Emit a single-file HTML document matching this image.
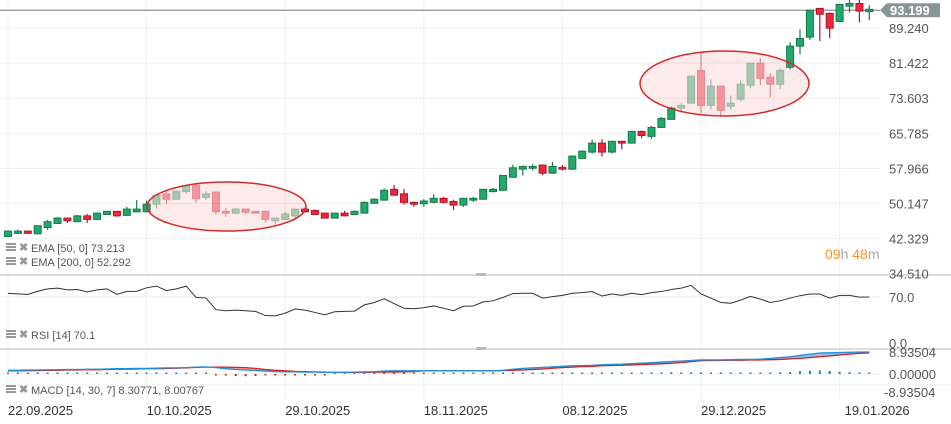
<!DOCTYPE html>
<html><head><meta charset="utf-8"><style>
body{margin:0;background:#fff;width:951px;height:424px;overflow:hidden;font-family:"Liberation Sans",sans-serif}
svg{display:block}
</style></head><body>
<svg id="c" width="951" height="424" viewBox="0 0 951 424" xmlns="http://www.w3.org/2000/svg"></svg>
<script>
const opens=[42.8,43.5,44.0,43.4,44.8,45.7,46.9,46.1,47.4,46.6,47.7,48.4,47.5,48.3,48.3,50.0,52.3,51.1,52.8,54.2,51.5,52.7,48.4,48.0,48.9,48.4,48.4,46.3,46.6,47.4,48.9,48.6,48.0,46.9,48.0,47.7,48.0,50.2,50.9,53.3,52.3,50.4,50.1,50.4,51.3,50.6,49.8,50.9,51.1,52.8,53.1,56.0,57.8,58.0,58.7,56.9,58.2,57.8,60.2,61.6,63.6,61.6,64.0,63.6,66.2,65.1,67.1,68.9,71.4,72.5,79.8,72.0,76.3,71.8,73.4,76.5,81.4,78.3,76.7,80.5,85.2,87.2,93.6,92.5,90.7,94.1,94.7,92.9];
const closes=[44.0,44.0,43.5,45.2,46.1,46.9,46.3,47.4,46.6,48.0,48.4,47.4,48.9,48.9,50.0,52.0,51.1,52.9,54.1,51.2,52.3,48.3,48.0,48.9,48.2,48.0,46.6,46.9,47.8,48.9,48.3,47.7,46.9,48.0,47.4,48.4,50.4,51.1,53.1,52.0,50.4,50.0,50.7,51.3,50.4,49.8,51.3,51.3,53.3,53.3,56.4,58.1,58.4,58.4,56.9,58.4,57.8,60.7,61.8,63.6,61.6,64.0,63.6,66.2,65.3,67.1,69.1,71.4,72.0,78.5,72.0,76.3,70.9,72.5,76.7,81.4,78.0,76.7,79.8,85.2,86.9,93.2,92.3,89.2,94.5,94.7,93.0,93.4];
const highs=[44.1,44.3,44.1,45.3,46.5,47.1,47.0,47.6,47.8,48.1,48.5,48.5,49.4,50.9,50.8,52.1,53.2,53.0,54.3,54.4,52.9,52.8,49.2,49.1,49.0,48.5,48.5,47.0,48.3,49.0,49.2,48.8,48.1,48.1,48.5,48.6,50.6,51.3,53.5,54.3,53.4,50.6,51.1,52.2,51.6,51.0,51.4,51.6,53.4,53.6,56.5,58.8,58.6,58.9,58.8,59.4,58.7,60.9,62.0,64.4,64.5,64.1,64.1,66.3,66.4,67.4,69.4,71.7,72.5,78.6,83.8,77.8,76.4,74.2,77.6,81.5,82.5,79.2,80.3,86.1,88.9,93.3,93.7,92.7,94.6,95.5,95.5,94.3];
const lows=[42.7,43.4,43.4,43.3,44.3,45.6,45.8,46.0,45.8,46.5,47.6,47.2,47.4,48.2,48.2,49.0,50.0,51.0,52.3,50.3,51.0,47.7,47.2,47.8,47.8,47.9,45.9,45.4,46.5,46.5,48.2,47.6,46.8,46.8,47.3,47.6,47.9,50.1,50.8,51.9,49.9,49.4,49.4,50.2,50.2,48.7,49.4,50.5,51.0,52.6,53.0,55.8,56.4,57.5,56.5,56.8,57.5,57.6,60.0,61.3,60.6,61.3,62.2,63.5,64.7,64.6,67.0,68.8,70.3,72.4,70.3,71.1,69.8,71.1,72.9,75.8,76.5,73.8,75.6,80.0,83.4,86.6,86.3,87.0,90.5,92.7,90.5,91.0];
const rsiValues=[75.5,74.8,73.8,78.8,82.4,83.5,80.9,81.4,77.8,80.9,82.4,74.1,78.3,78.8,84.0,86.6,79.8,82.4,86.6,69.4,68.4,50.7,49.1,50.1,49.1,48.1,41.8,41.3,45.5,51.7,50.1,46.5,42.9,47.5,48.1,48.6,58.0,61.6,67.3,60.0,52.8,52.2,53.8,56.4,52.8,49.1,55.9,56.4,62.6,64.2,69.4,75.2,75.7,75.7,68.4,70.5,72.5,75.7,76.7,78.3,71.5,74.6,72.5,75.7,73.6,76.7,78.3,81.4,83.5,87.7,74.6,68.4,61.6,60.6,65.3,71.0,66.8,61.6,64.2,68.4,72.0,74.6,74.6,68.4,72.5,72.5,69.9,70.1];
const macdValues=[1.4,1.4,1.5,1.5,1.6,1.6,1.7,1.7,1.8,1.8,1.9,2.0,2.0,2.1,2.1,2.2,2.3,2.3,2.4,2.6,2.7,2.4,2.0,1.7,1.5,1.3,1.1,0.9,0.8,0.8,0.7,0.7,0.6,0.6,0.6,0.7,0.8,0.9,1.1,1.2,1.2,1.2,1.2,1.2,1.2,1.2,1.2,1.2,1.2,1.2,1.4,1.8,2.1,2.3,2.5,2.7,2.9,3.1,3.2,3.3,3.5,3.6,3.7,3.9,4.1,4.3,4.5,4.7,4.9,5.1,5.3,5.3,5.3,5.4,5.5,5.5,5.6,5.9,6.2,6.5,7.0,7.5,7.9,8.0,8.1,8.2,8.3,8.3];
const signalValues=[1.2,1.2,1.3,1.3,1.4,1.4,1.5,1.5,1.6,1.6,1.7,1.8,1.8,1.9,2.0,2.0,2.1,2.2,2.3,2.5,2.6,2.6,2.6,2.5,2.4,2.1,1.7,1.4,1.2,1.0,0.9,0.8,0.7,0.6,0.6,0.6,0.6,0.7,0.7,0.7,0.8,0.9,1.2,1.2,1.2,1.2,1.2,1.2,1.2,1.2,1.3,1.4,1.5,1.7,1.9,2.2,2.4,2.6,2.8,2.9,3.1,3.2,3.3,3.4,3.6,3.7,3.9,4.0,4.3,4.7,5.0,5.1,5.1,5.2,5.2,5.3,5.3,5.4,5.5,5.7,5.9,6.2,6.5,6.8,7.2,7.5,7.8,8.0];
const priceTicks=["89.240","81.422","73.603","65.785","57.966","50.147","42.329","34.510"];
const priceTickValues=[89.240,81.422,73.603,65.785,57.966,50.147,42.329,34.510];
const dateLabels=["22.09.2025","10.10.2025","29.10.2025","18.11.2025","08.12.2025","29.12.2025","19.01.2026"];
const dateIndex=[0,14,28,42,56,70,84];
const lastPrice=93.199;
const fadeRanges=[[15,29],[68,78]];

const NS="http://www.w3.org/2000/svg";
const svg=document.getElementById('c');
function el(tag,attrs,parent){const e=document.createElementNS(NS,tag);for(const k in attrs)e.setAttribute(k,attrs[k]);(parent||svg).appendChild(e);return e;}
const xS=i=>8+i*9.9;
const yP=v=>28-(v-89.24)*35.1/7.8185;
const yR=v=>343-v*0.657;
const yM=v=>374-v*2.65;

const grid=el('g',{});


priceTickValues.slice(0,7).forEach(v=>el('line',{x1:0,x2:880,y1:yP(v),y2:yP(v),stroke:'#efefef'},grid));
dateIndex.forEach(i=>el('line',{x1:xS(i),x2:xS(i),y1:0,y2:400,stroke:'#f0f0f0'},grid));
el('line',{x1:0,x2:880,y1:yR(70),y2:yR(70),stroke:'#ececec'},grid);
el('line',{x1:0,x2:880,y1:yM(0),y2:yM(0),stroke:'#ececec'},grid);
el('line',{x1:0,x2:951,y1:275,y2:275,stroke:'#dcdcdc','stroke-width':2},grid);
el('line',{x1:0,x2:951,y1:349,y2:349,stroke:'#dcdcdc','stroke-width':2},grid);
el('line',{x1:0,x2:951,y1:385,y2:385,stroke:'#f0f0f0'},grid);
el('rect',{x:476,y:273,width:10,height:3,fill:'#bbb'},grid);
el('rect',{x:476,y:347,width:10,height:3,fill:'#bbb'},grid);

const pl=el('line',{x1:0,x2:880,y1:yP(lastPrice),y2:yP(lastPrice),stroke:'#8a9599','stroke-width':1.3});



const cg=el('g',{});


opens.forEach((o,i)=>{
  const c=closes[i],up=c>=o;
  const fade=fadeRanges.some(r=>i>=r[0]&&i<=r[1]);
  const g=el('g',{opacity:fade?0.45:1},cg);
  
  
  const stroke=up?'#157a4a':'#b3132b',fill=up?'#22a86b':'#f0263c';
  const x=xS(i);
  el('line',{x1:x,x2:x,y1:yP(highs[i]),y2:yP(lows[i]),stroke:stroke,'stroke-width':1.2},g);
  const t=yP(Math.max(o,c)),b=yP(Math.min(o,c));
  el('rect',{x:x-3.5,y:t,width:7,height:Math.max(1.5,b-t),fill:fill,stroke:stroke,'stroke-width':1},g);
});

const e1=el('ellipse',{cx:226.5,cy:206.5,rx:79.5,ry:24.5,fill:'rgba(235,90,90,0.12)',stroke:'#d42a2a','stroke-width':1.5});


const e2=el('ellipse',{cx:724.5,cy:83.5,rx:84.5,ry:32.5,fill:'rgba(235,90,90,0.12)',stroke:'#d42a2a','stroke-width':1.5});



const ax=el('g',{'font-size':13,fill:'#555'});


priceTicks.forEach((t,k)=>{const tx=el('text',{x:889,y:yP(priceTickValues[k])+5},ax);tx.textContent=t;});
const tag=el('g',{});


const ly=yP(lastPrice);
el('path',{d:`M880 ${ly} L887 ${ly-7} L940 ${ly-7} L940 ${ly+7} L887 ${ly+7} Z`,fill:'#8a9599'},tag);
const tt=el('text',{x:890,y:ly+5,'font-size':13,fill:'#fff','font-weight':'bold'},tag);tt.textContent=lastPrice.toFixed(3);

const cd=el('text',{x:825,y:259,'font-size':14});


cd.innerHTML='<tspan fill="#f7931e">09</tspan><tspan fill="#aaa">h </tspan><tspan fill="#f7931e">48</tspan><tspan fill="#aaa">m</tspan>';

let d='';rsiValues.forEach((v,i)=>{d+=(i?'L':'M')+xS(i)+' '+yR(v)+' ';});
const rl=el('path',{d:d,fill:'none',stroke:'#333','stroke-width':1});


const ra=el('g',{'font-size':13,fill:'#555'});


[[70,'70.0'],[0,'0.0']].forEach(p=>{const t=el('text',{x:889,y:yR(p[0])+5},ra);t.textContent=p[1];});

const mg=el('g',{});


for(let i=0;i<macdValues.length-1;i++){
  const up=(macdValues[i]+macdValues[i+1])>=(signalValues[i]+signalValues[i+1]);
  el('path',{d:`M${xS(i)} ${yM(macdValues[i])} L${xS(i+1)} ${yM(macdValues[i+1])} L${xS(i+1)} ${yM(signalValues[i+1])} L${xS(i)} ${yM(signalValues[i])} Z`,fill:up?'rgba(40,150,220,0.55)':'rgba(225,80,80,0.55)'},mg);
}
macdValues.forEach((m,i)=>{
  const h=m-signalValues[i];
  const hh=Math.max(1.5,Math.abs(h)*2.5);
  const b=el('rect',{x:xS(i)-1,y:h>=0?yM(0)-hh:yM(0),width:2,height:hh,fill:h>=0?'#1b7fc4':'#d0202a'},mg);
  
  
});
let dm='',ds='';
macdValues.forEach((v,i)=>{dm+=(i?'L':'M')+xS(i)+' '+yM(v)+' ';ds+=(i?'L':'M')+xS(i)+' '+yM(signalValues[i])+' ';});
const sl=el('path',{d:ds,fill:'none',stroke:'#d42020','stroke-width':1.3},mg);


const ml=el('path',{d:dm,fill:'none',stroke:'#1e8fd8','stroke-width':1.3},mg);


const ma=el('g',{'font-size':13,fill:'#555'});


[[357,'8.93504'],[379,'0.00000'],[397,'-8.93504']].forEach(p=>{const t=el('text',{x:p[1][0]=='-'?884:889,y:p[0]},ma);t.textContent=p[1];});

const da=el('g',{'font-size':13,fill:'#333'});


dateLabels.forEach((t,k)=>{const tx=el('text',{x:xS(dateIndex[k])+(k==6?5:0),y:415},da);tx.textContent=t;});

function legend(y,txt,name){
  const g=el('g',{});
  
  
  el('rect',{x:6,y:y-8,width:10,height:2,fill:'#999'},g);
  el('rect',{x:6,y:y-5,width:10,height:2,fill:'#999'},g);
  el('rect',{x:6,y:y-2,width:10,height:2,fill:'#999'},g);
  const x=el('text',{x:19,y:y,'font-size':11,fill:'#999','font-weight':'bold'},g);x.textContent='✖';
  const t=el('text',{x:31,y:y+1,'font-size':11,fill:'#555'},g);t.textContent=txt;
}
legend(251,'EMA [50,  0]  73.213','ema50-legend');
legend(265,'EMA [200,  0]  52.292','ema200-legend');
legend(338,'RSI  [14]  70.1','rsi-legend');
legend(393,'MACD  [14,  30,  7]  8.30771,   8.00767','macd-legend');
</script>
</body></html>
